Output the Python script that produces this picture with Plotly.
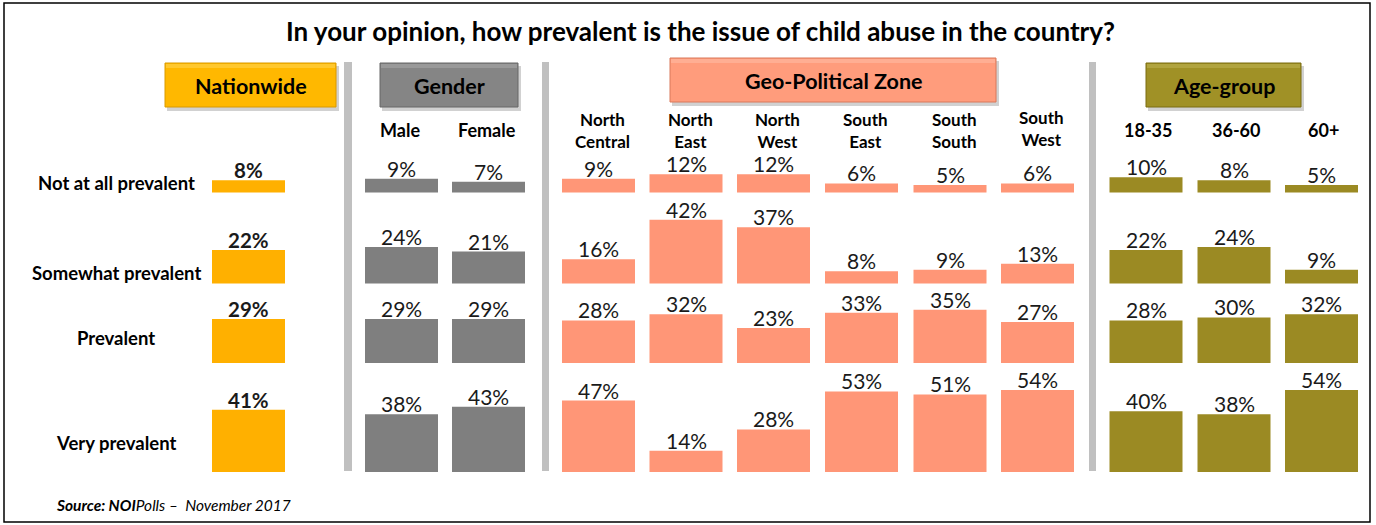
import plotly.graph_objects as go

# ---------------- data ----------------
rows = ["Not at all prevalent", "Somewhat prevalent", "Prevalent", "Very prevalent"]

nationwide = [8, 22, 29, 41]

gender_labels = ["Male", "Female"]
male = [9, 24, 29, 38]
female = [7, 21, 29, 43]

zone_labels = ["North<br>Central", "North<br>East", "North<br>West", "South<br>East", "South<br>South", "South<br>West"]
north_central = [9, 16, 28, 47]
north_east = [12, 42, 32, 14]
north_west = [12, 37, 23, 28]
south_east = [6, 8, 33, 53]
south_south = [5, 9, 35, 51]
south_west = [6, 13, 27, 54]

age_labels = ["18-35", "36-60", "60+"]
age_18_35 = [10, 22, 28, 40]
age_36_60 = [8, 24, 30, 38]
age_60_plus = [5, 9, 32, 54]

title = "In your opinion, how prevalent is the issue of child abuse in the country?"
source_html = "<b><i>Source: NOI</i></b><i>Polls –  November 2017</i>"

# ---------------- layout geometry (pixels) ----------------
W, H = 1376, 525
K = 1.52                       # pixels per percentage point
ROW_BASE_PX = [192.5, 283.5, 363, 472]
BAR_W = 73
FONT = "Lato"

nat_x = [248.5]
gen_x = [401.5, 488.5]
zone_x = [598.5, 686, 773.5, 861.5, 950, 1037.5]
age_x = [1146, 1234, 1321.5]

C_NAT = "#FFB000"
C_GEN = "#7F7F7F"
C_ZONE = "#FF9677"
C_AGE = "#9B8A23"


def px_to_y(py):
    return (H - py) / K


row_base = [px_to_y(b) for b in ROW_BASE_PX]


def xp(px):
    return px / W


def yp(py):
    return 1 - py / H


fig = go.Figure()
shapes = []
annotations = []


def add_group(xs, series, color, bold=False):
    X, Y, B = [], [], []
    for cx, vals in zip(xs, series):
        for r, v in enumerate(vals):
            X.append(cx)
            Y.append(v)
            B.append(row_base[r])
            txt = f"{v}%"
            annotations.append(dict(
                xref="x", yref="y", x=cx, y=row_base[r] + v,
                text=f"<b>{txt}</b>" if bold else txt, showarrow=False,
                xanchor="center", yanchor="bottom", yshift=-3, borderpad=0,
                font=dict(family=FONT, size=20.5 if bold else 21, color="#1a1a1a"),
            ))
    fig.add_trace(go.Bar(
        x=X, y=Y, base=B, width=BAR_W,
        marker=dict(color=color, line=dict(width=0)),
        hoverinfo="skip", showlegend=False,
    ))


add_group(nat_x, [nationwide], C_NAT, bold=True)
add_group(gen_x, [male, female], C_GEN)
add_group(zone_x, [north_central, north_east, north_west, south_east, south_south, south_west], C_ZONE)
add_group(age_x, [age_18_35, age_36_60, age_60_plus], C_AGE)

# outer frame
shapes.append(dict(type="rect", xref="paper", yref="paper",
                   x0=xp(4), x1=xp(1370), y0=yp(522), y1=yp(3),
                   line=dict(color="black", width=1.5), fillcolor="rgba(0,0,0,0)"))

# vertical separators
for x0, x1 in [(344, 352), (542, 549), (1089, 1096)]:
    shapes.append(dict(type="rect", xref="paper", yref="paper",
                       x0=xp(x0), x1=xp(x1), y0=yp(471), y1=yp(62),
                       line=dict(width=0), fillcolor="#C0C0C0", layer="below"))

# header boxes
headers = [
    ("Nationwide", 165, 336, 63, 107, "#FFB800", "#D99A00", "#FFD24D"),
    ("Gender", 380, 518, 63, 107, "#858585", "#666666", "#A6A6A6"),
    ("Geo-Political Zone", 670, 996, 58, 102, "#FF9C7C", "#D9785A", "#FFBBA3"),
    ("Age-group", 1146, 1301, 63, 107, "#A09126", "#7A6D10", "#BDB050"),
]
for label, x0, x1, y0, y1, fill, dark, light in headers:
    # shadow
    shapes.append(dict(type="rect", xref="paper", yref="paper",
                       x0=xp(x0 + 2), x1=xp(x1 + 3), y0=yp(y1 + 4), y1=yp(y0 + 3),
                       line=dict(width=0), fillcolor="rgba(0,0,0,0.18)"))
    shapes.append(dict(type="rect", xref="paper", yref="paper",
                       x0=xp(x0), x1=xp(x1), y0=yp(y1), y1=yp(y0),
                       line=dict(color=dark, width=1), fillcolor=fill))
    # bevel highlight
    shapes.append(dict(type="rect", xref="paper", yref="paper",
                       x0=xp(x0 + 1), x1=xp(x1 - 1), y0=yp(y0 + 5), y1=yp(y0 + 1),
                       line=dict(width=0), fillcolor=light, opacity=0.6))
    annotations.append(dict(xref="paper", yref="paper", x=xp((x0 + x1) / 2), y=yp((y0 + y1) / 2 + 1),
                            text=f"<b>{label}</b>", showarrow=False,
                            font=dict(family=FONT, size=21.5, color="black"),
                            xanchor="center", yanchor="middle"))

# column labels
for cx, lab in zip(gen_x, gender_labels):
    annotations.append(dict(xref="paper", yref="paper", x=xp(cx - 2), y=yp(129.5), text=f"<b>{lab}</b>",
                            showarrow=False, font=dict(family=FONT, size=18, color="black"),
                            xanchor="center", yanchor="middle"))
for i, (cx, lab) in enumerate(zip(zone_x, zone_labels)):
    cy = 128 if i == len(zone_x) - 1 else 130
    annotations.append(dict(xref="paper", yref="paper", x=xp(cx + 4), y=yp(cy),
                            text="<b>" + lab.replace("<br>", "</b><br><b>") + "</b>",
                            showarrow=False, font=dict(family=FONT, size=17, color="black"),
                            xanchor="center", yanchor="middle", borderpad=0))
for cx, lab in zip(age_x, age_labels):
    annotations.append(dict(xref="paper", yref="paper", x=xp(cx + 2), y=yp(130), text=f"<b>{lab}</b>",
                            showarrow=False, font=dict(family=FONT, size=18, color="black"),
                            xanchor="center", yanchor="middle"))

# row labels
row_label_py = [183, 273, 338, 443]
for lab, py in zip(rows, row_label_py):
    annotations.append(dict(xref="paper", yref="paper", x=xp(116), y=yp(py), text=f"<b>{lab}</b>",
                            showarrow=False, font=dict(family=FONT, size=18.5, color="black"),
                            xanchor="center", yanchor="middle"))

# title
annotations.append(dict(xref="paper", yref="paper", x=xp(700), y=yp(31), text=f"<b>{title}</b>",
                        showarrow=False, font=dict(family=FONT, size=26, color="black"),
                        xanchor="center", yanchor="middle"))
# source
annotations.append(dict(xref="paper", yref="paper", x=xp(54), y=yp(505), text=source_html,
                        showarrow=False, font=dict(family=FONT, size=15.5, color="black"),
                        xanchor="left", yanchor="middle"))

fig.update_layout(
    width=W, height=H,
    margin=dict(l=0, r=0, t=0, b=0),
    paper_bgcolor="white", plot_bgcolor="white",
    xaxis=dict(range=[0, W], visible=False, fixedrange=True),
    yaxis=dict(range=[0, H / K], visible=False, fixedrange=True),
    barmode="overlay",
    showlegend=False,
    shapes=shapes,
    annotations=annotations,
)

fig.write_html("out.html", config={"displayModeBar": False},
               post_script="document.body.style.margin='0';document.body.style.overflow='hidden';")
